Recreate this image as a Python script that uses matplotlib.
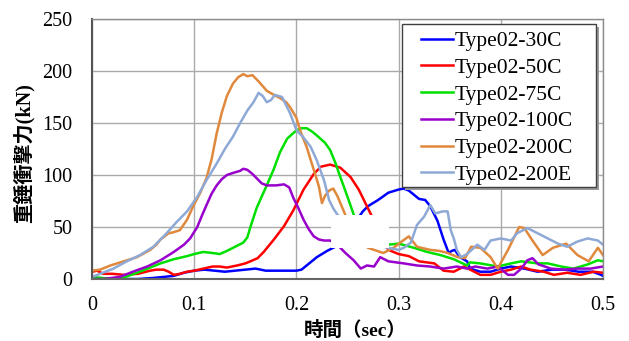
import numpy as np
import matplotlib.pyplot as plt
from matplotlib.patches import Rectangle

plt.rcParams['font.family'] = ['Liberation Serif', 'Noto Sans CJK JP']

"""Impact force time histories (read off the reference picture)"""
labels = ["Type02-30C", "Type02-50C", "Type02-75C",
          "Type02-100C", "Type02-200C", "Type02-200E"]
colors = ["#0000FF", "#FF0000", "#00E000", "#9900CC", "#E0883C", "#8EA9D6"]

t_30C = [0, 0.01, 0.02, 0.03, 0.045, 0.06, 0.07, 0.08, 0.09, 0.1, 0.11, 0.12,
         0.13, 0.14, 0.15, 0.16, 0.17, 0.18, 0.19, 0.2, 0.205, 0.21, 0.215,
         0.22, 0.225, 0.23, 0.24, 0.25, 0.26, 0.265, 0.27, 0.28, 0.29, 0.3,
         0.305, 0.31, 0.315, 0.32, 0.326, 0.331, 0.338, 0.344, 0.349, 0.352,
         0.355, 0.36, 0.367, 0.37, 0.38, 0.39, 0.4, 0.41, 0.423, 0.436, 0.45,
         0.463, 0.476, 0.49, 0.498, 0.5]
f_30C = [0, 0, 0, 0, 0, 1, 2, 3, 6, 8, 9, 8, 7, 8, 9, 10, 8, 8, 8, 8, 9, 13,
         17, 21, 24, 27, 32, 42, 58, 65, 70, 76, 83, 86, 87, 85, 81, 77, 76,
         70, 56, 38, 25, 27, 28, 21, 17, 10, 7, 7, 10, 12, 10, 7, 9, 9, 7, 7,
         4, 3]

t_50C = [0, 0.005, 0.011, 0.02, 0.031, 0.045, 0.057, 0.063, 0.07, 0.075, 0.08,
         0.086, 0.093, 0.1, 0.109, 0.118, 0.125, 0.132, 0.142, 0.15, 0.155,
         0.162, 0.168, 0.178, 0.188, 0.197, 0.207, 0.217, 0.224, 0.233, 0.243,
         0.253, 0.261, 0.269, 0.275, 0.28, 0.29, 0.3, 0.31, 0.32, 0.335,
         0.344, 0.354, 0.364, 0.37, 0.38, 0.39, 0.4, 0.41, 0.42, 0.429, 0.442,
         0.452, 0.465, 0.478, 0.491, 0.5]
f_50C = [7, 8, 5, 5, 4, 5, 8, 9, 9, 7, 4, 5, 7, 8, 10, 12, 12, 11, 13, 15, 17,
         20, 26, 38, 51, 66, 86, 101, 108, 110, 107, 98, 86, 70, 58, 45, 28,
         24, 22, 17, 15, 8, 7, 12, 9, 4, 4, 7, 9, 12, 9, 7, 4, 6, 4, 7, 6]

t_75C = [0, 0.01, 0.02, 0.03, 0.044, 0.057, 0.067, 0.08, 0.093, 0.1, 0.109,
         0.118, 0.125, 0.132, 0.138, 0.148, 0.152, 0.155, 0.161, 0.165, 0.171,
         0.178, 0.184, 0.191, 0.2, 0.205, 0.21, 0.215, 0.22, 0.228, 0.233,
         0.238, 0.243, 0.25, 0.255, 0.26, 0.27, 0.28, 0.29, 0.3, 0.315, 0.328,
         0.341, 0.354, 0.367, 0.37, 0.38, 0.397, 0.41, 0.42, 0.436, 0.446,
         0.459, 0.471, 0.485, 0.495, 0.5]
f_75C = [2, 1, 0, 1, 6, 11, 15, 19, 22, 24, 26, 25, 24, 27, 30, 35, 40, 50, 68,
         77, 90, 106, 122, 135, 143, 145, 145, 142, 138, 131, 124, 112, 98, 79,
         65, 50, 38, 33, 33, 34, 30, 26, 23, 19, 13, 16, 15, 12, 15, 17, 15,
         15, 12, 10, 14, 18, 17]

t_100C = [0, 0.011, 0.027, 0.04, 0.054, 0.067, 0.08, 0.09, 0.096, 0.103, 0.108,
          0.112, 0.117, 0.122, 0.127, 0.132, 0.138, 0.145, 0.148, 0.152, 0.157,
          0.161, 0.166, 0.171, 0.18, 0.188, 0.193, 0.197, 0.202, 0.207, 0.212,
          0.217, 0.222, 0.227, 0.233, 0.24, 0.248, 0.256, 0.263, 0.269, 0.276,
          0.282, 0.29, 0.305, 0.318, 0.331, 0.344, 0.357, 0.367, 0.375, 0.387,
          0.397, 0.407, 0.413, 0.42, 0.426, 0.431, 0.437, 0.449, 0.462, 0.475,
          0.488, 0.5]
f_100C = [0, 0, 2, 7, 12, 18, 26, 33, 39, 50, 62, 71, 82, 90, 96, 100, 102,
          104, 106, 105, 101, 97, 92, 90, 90, 91, 88, 78, 68, 57, 48, 41, 38,
          37, 37, 33, 25, 18, 10, 13, 12, 21, 17, 15, 13, 12, 10, 12, 10, 12,
          10, 12, 4, 4, 10, 18, 20, 14, 10, 9, 10, 10, 12]

t_200C = [0, 0.008, 0.018, 0.031, 0.044, 0.057, 0.063, 0.067, 0.075, 0.08,
          0.086, 0.093, 0.099, 0.106, 0.112, 0.117, 0.122, 0.127, 0.132, 0.138,
          0.143, 0.148, 0.152, 0.157, 0.163, 0.171, 0.178, 0.184, 0.19, 0.194,
          0.2, 0.204, 0.21, 0.217, 0.222, 0.225, 0.228, 0.232, 0.236, 0.24,
          0.246, 0.255, 0.27, 0.285, 0.295, 0.303, 0.31, 0.318, 0.331, 0.34,
          0.348, 0.358, 0.365, 0.371, 0.38, 0.39, 0.397, 0.407, 0.413, 0.418,
          0.423, 0.431, 0.441, 0.451, 0.464, 0.475, 0.486, 0.495, 0.5]
f_200C = [8, 9, 13, 17, 21, 28, 33, 38, 44, 45, 47, 57, 70, 83, 97, 115, 140,
          160, 176, 188, 194, 197, 195, 196, 190, 181, 177, 174, 170, 165, 155,
          142, 127, 105, 89, 73, 80, 85, 87, 80, 66, 45, 30, 25, 30, 36, 41,
          31, 28, 27, 25, 21, 20, 31, 30, 21, 10, 28, 40, 50, 49, 37, 23, 30,
          34, 23, 17, 30, 23]

t_200E = [0, 0.008, 0.021, 0.034, 0.047, 0.06, 0.073, 0.083, 0.093, 0.103,
          0.112, 0.122, 0.13, 0.138, 0.145, 0.152, 0.158, 0.163, 0.167, 0.171,
          0.175, 0.179, 0.186, 0.19, 0.194, 0.2, 0.207, 0.214, 0.22, 0.227,
          0.232, 0.236, 0.24, 0.26, 0.28, 0.29, 0.3, 0.305, 0.312, 0.318,
          0.325, 0.331, 0.336, 0.343, 0.348, 0.351, 0.354, 0.357, 0.361, 0.367,
          0.377, 0.384, 0.39, 0.4, 0.41, 0.416, 0.426, 0.436, 0.446, 0.456,
          0.465, 0.475, 0.485, 0.495, 0.5]
f_200E = [2, 5, 10, 17, 23, 31, 44, 55, 65, 79, 95, 111, 125, 137, 150, 162,
          170, 179, 176, 170, 172, 177, 175, 167, 159, 143, 136, 127, 114, 95,
          76, 68, 62, 45, 32, 30, 28, 30, 35, 52, 60, 71, 63, 65, 65, 47, 39,
          28, 21, 24, 33, 28, 37, 39, 37, 44, 49, 44, 39, 34, 31, 36, 39, 37,
          33]

series = [(t_30C, f_30C), (t_50C, f_50C), (t_75C, f_75C),
          (t_100C, f_100C), (t_200C, f_200C), (t_200E, f_200E)]

W, H = 629, 341
fig = plt.figure(figsize=(W/100, H/100), dpi=100)
ax = fig.add_axes([92/W, 1-279/H, 511/W, 260/H])

for (t, f), c, lab in zip(series, colors, labels):
    ax.plot(t, f, color=c, lw=1.8, label=lab, solid_joinstyle="round")

ax.set_xlim(0, 0.5)
ax.set_ylim(0, 250)
ax.set_xticks([0, 0.1, 0.2, 0.3, 0.4, 0.5])
ax.set_xticklabels(["0", "0.1", "0.2", "0.3", "0.4", "0.5"])
ax.set_yticks([0, 50, 100, 150, 200, 250])
ax.tick_params(length=0, labelsize=14.5)
ax.tick_params(axis="x", pad=12)
ax.tick_params(axis="y", pad=14)
ax.grid(True, color="#AAAAAA", lw=1.0)
ax.set_axisbelow(True)
for sp in ax.spines.values():
    sp.set_color("#8C8C8C")
    sp.set_linewidth(1.0)
ax.spines["left"].set_color("#555555")
ax.spines["left"].set_linewidth(1.5)
ax.spines["bottom"].set_color("#666666")
ax.spines["bottom"].set_linewidth(1.5)

# legend entries without frame; the frame with its shadow is drawn separately
leg = ax.legend(loc="upper left", bbox_to_anchor=(421/W, 1-31/H),
                bbox_transform=fig.transFigure,
                prop={"size": 15.5}, frameon=False,
                handlelength=1.5, handletextpad=0.08, labelspacing=0.31,
                borderpad=0, borderaxespad=0)
leg.set_zorder(6)
ax.add_patch(Rectangle((405/W, 1-190/H), 194/W, 163/H,
                       transform=fig.transFigure, facecolor="#9A9A9A",
                       edgecolor="none", zorder=4, clip_on=False))
ax.add_patch(Rectangle((402/W, 1-187/H), 194/W, 163/H,
                       transform=fig.transFigure, facecolor="white",
                       edgecolor="#404040", lw=1.0, zorder=4.5, clip_on=False))

fig.text(24/W, 1-153/H, "重錘衝撃力(kN)", rotation=90, ha="center",
         va="center", fontsize=14.5, fontweight="bold")
fig.text(355/W, 1-330/H, "時間（sec）", ha="center", va="center",
         fontsize=14, fontweight="bold")

# white patch covering part of the plot, as in the source image
fig.patches.append(Rectangle((331/W, 1-248/H), 58/W, 33/H,
                             transform=fig.transFigure, facecolor="white",
                             edgecolor="none", zorder=10))

plt.savefig("out.png", dpi=100)
